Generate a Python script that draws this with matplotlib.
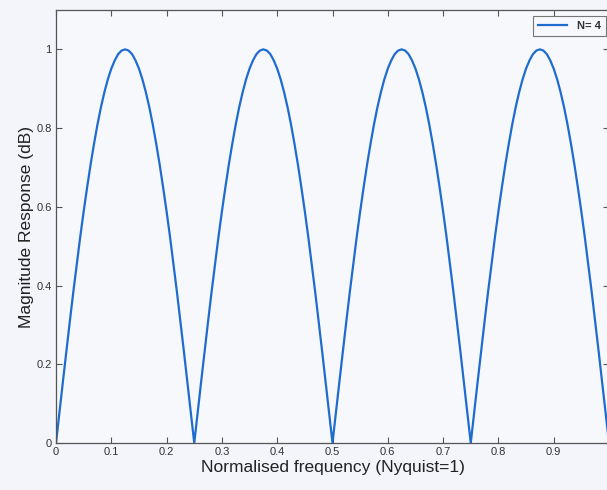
import matplotlib
matplotlib.use("Agg")
import matplotlib.pyplot as plt

# One lobe of the magnitude response (N = 4), step 1/160 in frequency
lobe_rise = [0.000, 0.079, 0.156, 0.233, 0.309, 0.383, 0.454, 0.523, 0.588, 0.649,
             0.707, 0.760, 0.809, 0.853, 0.891, 0.924, 0.951, 0.972, 0.988, 0.997, 1.000]
n_lobes = 4
series_label = "N= 4"
xticks = [0, 0.1, 0.2, 0.3, 0.4, 0.5, 0.6, 0.7, 0.8, 0.9]
xtick_labels = ["0", "0.1", "0.2", "0.3", "0.4", "0.5", "0.6", "0.7", "0.8", "0.9"]
yticks = [0, 0.2, 0.4, 0.6, 0.8, 1.0]
ytick_labels = ["0", "0.2", "0.4", "0.6", "0.8", "1"]

lobe = lobe_rise + lobe_rise[-2::-1]          # 41 samples, rise then fall
magnitude = [lobe[0]]
for _ in range(n_lobes):
    magnitude += lobe[1:]
npts = len(magnitude)
freq = [i / (npts - 1) for i in range(npts)]

plt.rcParams['font.family'] = ['Liberation Sans', 'DejaVu Sans']

fig = plt.figure(figsize=(6.07, 4.90), dpi=100, facecolor='#f3f5fa')
ax = fig.add_axes([56 / 607, 47 / 490, 553 / 607, 433 / 490])
ax.set_facecolor('#f7f8fc')

ax.plot(freq, magnitude, color='#1f6cd0', linewidth=1.6, label=series_label)

ax.set_xlim(0, 1)
ax.set_ylim(0, 1.1)
ax.set_xticks(xticks)
ax.set_xticklabels(xtick_labels, fontsize=8, color='#333333')
ax.set_yticks(yticks)
ax.set_yticklabels(ytick_labels, fontsize=8, color='#333333')
ax.tick_params(direction='in', top=True, right=True, length=4, width=0.8, color='#555555', pad=3)
for s in ax.spines.values():
    s.set_color('#555555')
    s.set_linewidth(0.9)

ax.set_xlabel("Normalised frequency (Nyquist=1)", fontsize=12.5, color='#222222', labelpad=2)
ax.set_ylabel("Magnitude Response (dB)", fontsize=12.5, color='#222222', labelpad=2)

leg = ax.legend(loc='upper right', bbox_to_anchor=(606 / 607, 1 - 16 / 490),
                bbox_transform=fig.transFigure,
                prop={'size': 8, 'weight': 'bold'},
                frameon=True, fancybox=False, handlelength=2.6, borderpad=0.45,
                handletextpad=0.9, borderaxespad=0)
for t in leg.get_texts():
    t.set_color('#333333')
leg.get_frame().set_edgecolor('#555555')
leg.get_frame().set_facecolor('#f7f8fc')
leg.get_frame().set_linewidth(0.8)

fig.savefig("out.png", dpi=100, facecolor=fig.get_facecolor())
